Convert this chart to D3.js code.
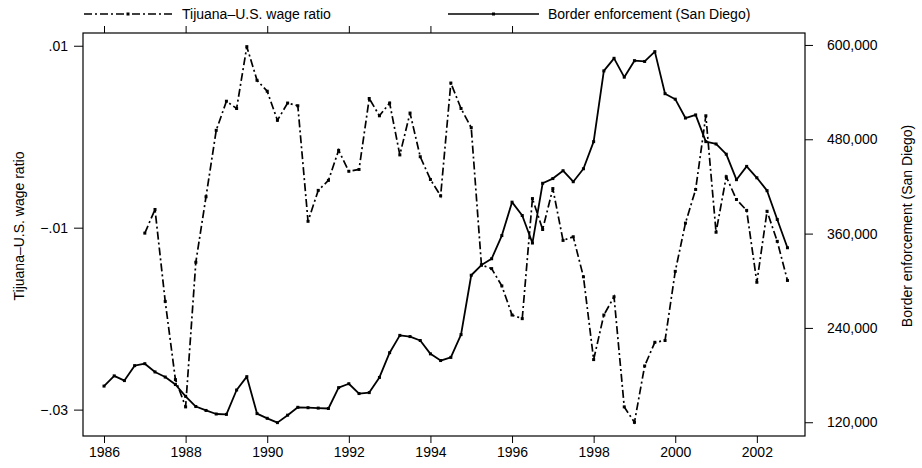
<!DOCTYPE html>
<html>
<head>
<meta charset="utf-8">
<script src="https://cdn.jsdelivr.net/npm/d3@7"></script>
<style>
  body { margin: 0; background: #fff; }
  text { font-family: "Liberation Sans", Arial, sans-serif; fill: #000; }
</style>
</head>
<body>
<div id="chart"></div>
<script>
// quarterly series
var enforcementStart = 1986;
var enforcement = [
  166000, 179000, 173000, 192000,
  194500, 184000, 177500, 168000,
  153000, 140000, 135000, 130500,
  130000, 161000, 178000, 131000,
  125000, 119500, 129000, 139000,
  138500, 138000, 137500, 164000,
  169000, 156500, 157700, 177000,
  208500, 230500, 229000, 224000,
  207000, 198500, 202500, 231500,
  307000, 320000, 328000, 357500,
  400000, 383000, 348000, 424000,
  430000, 440000, 426000, 442500,
  477000, 567000, 583000, 559000,
  580000, 579000, 591500, 538000,
  531000, 507000, 511000, 477000,
  474000, 461000, 428600, 445500,
  431000, 414600, 378000, 342000
];

var wageStart = 1987;
var wageRatio = [
  -0.0106, -0.0080, -0.0181, -0.0267,
  -0.0297, -0.0138, -0.0066, 0.0007,
  0.0039, 0.0031, 0.0099, 0.0062,
  0.0050, 0.0018, 0.0037, 0.0034,
  -0.0093, -0.0059, -0.0048, -0.0015,
  -0.0038, -0.0036, 0.0042, 0.0023,
  0.0037, -0.0020, 0.0026, -0.0022,
  -0.0047, -0.0065, 0.0059, 0.0031,
  0.0010, -0.0141, -0.0145, -0.0164,
  -0.0196, -0.0200, -0.0068, -0.0102,
  -0.0057, -0.0114, -0.0110, -0.0154,
  -0.0245, -0.0196, -0.0176, -0.0297,
  -0.0314, -0.0252, -0.0226, -0.0224,
  -0.0148, -0.0095, -0.0058, 0.0023,
  -0.0105, -0.0044, -0.0069, -0.0081,
  -0.0160, -0.0082, -0.0115, -0.0158
];

var yearTicks = [1986, 1988, 1990, 1992, 1994, 1996, 1998, 2000, 2002];
var topTicks = [1986, 1988, 1990, 1992, 1994, 1996];
var leftTicks = [0.01, -0.01, -0.03];
var rightTicks = [120000, 240000, 360000, 480000, 600000];

var legendLabels = ["Tijuana\u2013U.S. wage ratio", "Border enforcement (San Diego)"];
var leftTitle = "Tijuana\u2013U.S. wage ratio";
var rightTitle = "Border enforcement (San Diego)";

var W = 922, H = 468;
var frame = {left: 83, right: 805, top: 33, bottom: 436};
var fontSize = 14;

var svg = d3.select("#chart").append("svg")
    .attr("width", W)
    .attr("height", H);

var x = d3.scaleLinear().domain([1985.485, 2003.18]).range([frame.left, frame.right]);
var yL = d3.scaleLinear().domain([-0.0329, 0.0114]).range([frame.bottom, frame.top]);
var yR = d3.scaleLinear().domain([102500, 615200]).range([frame.bottom, frame.top]);

var enfData = enforcement.map((v, i) => ({t: enforcementStart + i / 4, v: v}));
var wageData = wageRatio.map((v, i) => ({t: wageStart + i / 4, v: v}));

function fmtLeft(d) {
    var s = d3.format(".2f")(Math.abs(d)).replace(/^0/, "");
    return (d < 0 ? "\u2212" : "") + s;
}

// axes
function styleAxis(g) {
    g.select(".domain").remove();
    g.selectAll("line").attr("stroke", "#000").attr("stroke-width", 1);
    g.selectAll("text")
        .attr("font-size", fontSize)
        .attr("fill", "#000");
    g.attr("font-family", null).attr("font-size", null);
}

svg.append("g")
    .attr("transform", "translate(0," + frame.bottom + ")")
    .call(d3.axisBottom(x).tickValues(yearTicks).tickFormat(d3.format("d")).tickSize(7).tickPadding(4))
    .call(styleAxis);

svg.append("g")
    .attr("transform", "translate(0," + frame.top + ")")
    .call(d3.axisTop(x).tickValues(topTicks).tickFormat("").tickSize(7))
    .call(styleAxis);

svg.append("g")
    .attr("transform", "translate(" + frame.left + ",0)")
    .call(d3.axisLeft(yL).tickValues(leftTicks).tickFormat(fmtLeft).tickSize(9).tickPadding(6))
    .call(styleAxis);

svg.append("g")
    .attr("transform", "translate(" + frame.right + ",0)")
    .call(d3.axisRight(yR).tickValues(rightTicks).tickFormat(d3.format(",")).tickSize(8).tickPadding(14))
    .call(styleAxis);

svg.append("rect")
    .attr("x", frame.left)
    .attr("y", frame.top)
    .attr("width", frame.right - frame.left)
    .attr("height", frame.bottom - frame.top)
    .attr("fill", "none")
    .attr("stroke", "#000")
    .attr("stroke-width", 1.2);

// axis titles
svg.append("text")
    .attr("transform", "translate(24,226) rotate(-90)")
    .attr("text-anchor", "middle")
    .attr("font-size", fontSize)
    .text(leftTitle);

svg.append("text")
    .attr("transform", "translate(912,226) rotate(-90)")
    .attr("text-anchor", "middle")
    .attr("font-size", fontSize)
    .text(rightTitle);

// lines
var lineL = d3.line().x(d => x(d.t)).y(d => yL(d.v));
var lineR = d3.line().x(d => x(d.t)).y(d => yR(d.v));

svg.append("path")
    .datum(enfData)
    .attr("d", lineR)
    .attr("fill", "none")
    .attr("stroke", "#000")
    .attr("stroke-width", 1.8)
    .attr("stroke-linejoin", "round");

svg.append("path")
    .datum(wageData)
    .attr("d", lineL)
    .attr("fill", "none")
    .attr("stroke", "#000")
    .attr("stroke-width", 1.7)
    .attr("stroke-dasharray", "8,3,2,3");

svg.selectAll(".pt-enf")
    .data(enfData)
    .enter().append("rect")
    .attr("class", "pt-enf")
    .attr("x", d => x(d.t) - 1.5)
    .attr("y", d => yR(d.v) - 1.5)
    .attr("width", 3)
    .attr("height", 3)
    .attr("fill", "#000");

svg.selectAll(".pt-wage")
    .data(wageData)
    .enter().append("rect")
    .attr("class", "pt-wage")
    .attr("x", d => x(d.t) - 1.5)
    .attr("y", d => yL(d.v) - 1.5)
    .attr("width", 3)
    .attr("height", 3)
    .attr("fill", "#000");

// legend
var legend = svg.append("g");
var legendItems = [
    {x1: 84, x2: 172, tx: 182, dash: "8,3,2,3", label: legendLabels[0]},
    {x1: 448, x2: 539, tx: 548, dash: null, label: legendLabels[1]}
];
legendItems.forEach(function(it) {
    legend.append("line")
        .attr("x1", it.x1).attr("x2", it.x2)
        .attr("y1", 14).attr("y2", 14)
        .attr("stroke", "#000")
        .attr("stroke-width", 1.7)
        .attr("stroke-dasharray", it.dash);
    legend.append("rect")
        .attr("x", (it.x1 + it.x2) / 2 - 1.5)
        .attr("y", 12.5)
        .attr("width", 3).attr("height", 3)
        .attr("fill", "#000");
    legend.append("text")
        .attr("x", it.tx)
        .attr("y", 19)
        .attr("font-size", fontSize)
        .text(it.label);
});
</script>
</body>
</html>
